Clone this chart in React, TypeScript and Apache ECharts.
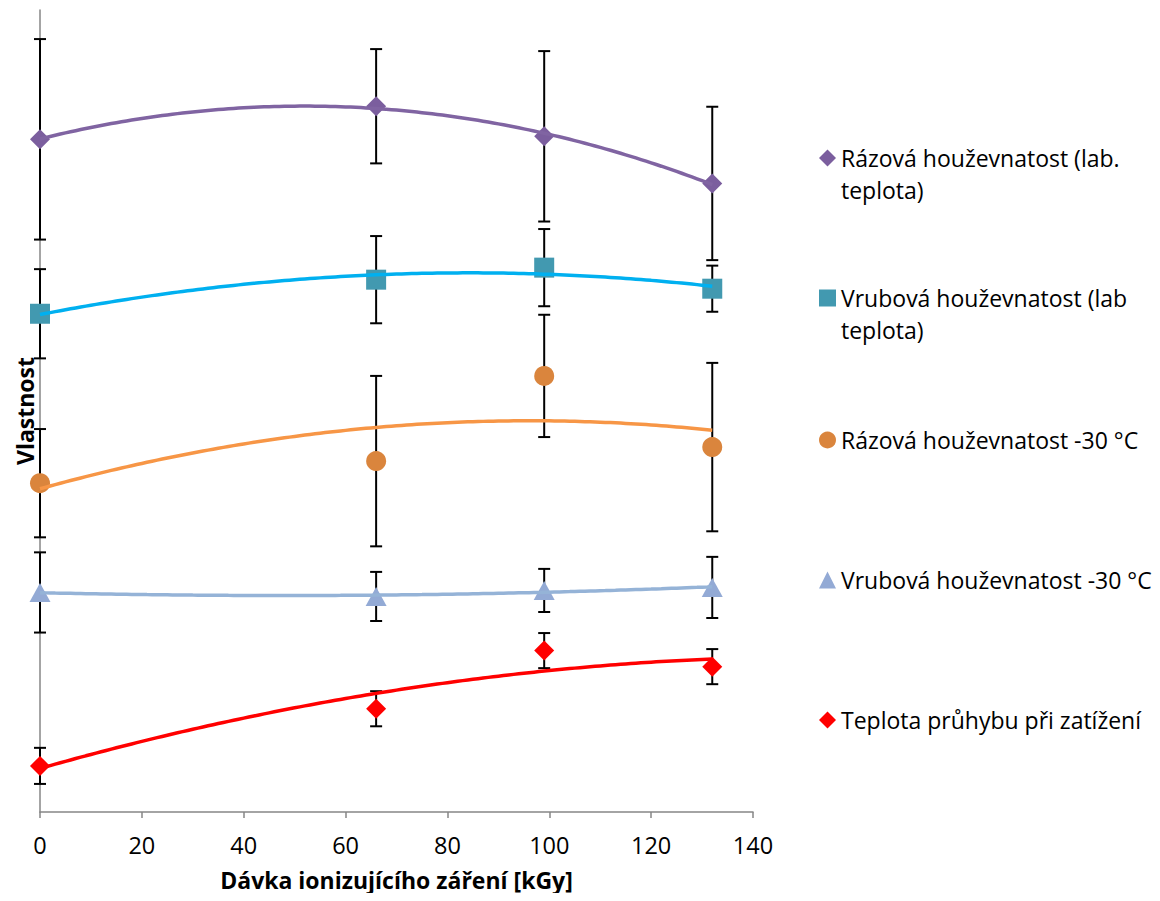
import React, { useEffect, useRef } from "react";
import * as echarts from "echarts";

// X values: dose of ionizing radiation [kGy]
const doses = [0, 66, 99, 132];

// Series names (legend labels)
const seriesNames = [
  "Rázová houževnatost (lab. teplota)",
  "Vrubová houževnatost (lab teplota)",
  "Rázová houževnatost -30 °C",
  "Vrubová houževnatost -30 °C",
  "Teplota průhybu při zatížení",
];
const legendLabels = [
  "Rázová houževnatost (lab.\nteplota)",
  "Vrubová houževnatost (lab\nteplota)",
  "Rázová houževnatost -30 °C",
  "Vrubová houževnatost -30 °C",
  "Teplota průhybu při zatížení",
];

// Mean values (relative units, unlabelled y axis)
const razLabMean = [67.1, 70.4, 67.4, 62.7];
const vrubLabMean = [49.7, 53.1, 54.3, 52.2];
const raz30Mean = [32.8, 35.0, 43.5, 36.4];
const vrub30Mean = [21.9, 21.5, 22.1, 22.4];
const teplotaMean = [4.6, 10.3, 16.1, 14.5];

// Error bar half-lengths (±)
const razLabErr = [10.0, 5.7, 8.5, 7.65];
const vrubLabErr = [4.45, 4.35, 3.85, 2.3];
const raz30Err = [5.4, 8.5, 6.1, 8.4];
const vrub30Err = [4.0, 2.45, 2.15, 3.05];
const teplotaErr = [1.8, 1.75, 1.75, 1.75];

const xTickMin = 0;
const xTickMax = 140;
const xTickStep = 20;

const markerColors = ["#7B5E9E", "#4299B0", "#DA853D", "#93AAD5", "#FF0000"];
const lineColors = ["#8064A2", "#00B0F0", "#F79646", "#95B3D7", "#FF0000"];
const symbols = ["diamond", "rect", "circle", "triangle", "diamond"];

const FONT = "'Open Sans', 'Noto Sans', sans-serif";

// Least-squares polynomial (order 2) trendline, as in the original chart
function quadFit(xs: number[], ys: number[]) {
  let s0 = 0, s1 = 0, s2 = 0, s3 = 0, s4 = 0, t0 = 0, t1 = 0, t2 = 0;
  for (let i = 0; i < xs.length; i++) {
    const x = xs[i], y = ys[i];
    s0 += 1; s1 += x; s2 += x * x; s3 += x * x * x; s4 += x * x * x * x;
    t0 += y; t1 += x * y; t2 += x * x * y;
  }
  const M = [
    [s0, s1, s2, t0],
    [s1, s2, s3, t1],
    [s2, s3, s4, t2],
  ];
  for (let c = 0; c < 3; c++) {
    let p = c;
    for (let r = c + 1; r < 3; r++) if (Math.abs(M[r][c]) > Math.abs(M[p][c])) p = r;
    [M[c], M[p]] = [M[p], M[c]];
    for (let r = 0; r < 3; r++) {
      if (r === c) continue;
      const f = M[r][c] / M[c][c];
      for (let k = c; k < 4; k++) M[r][k] -= f * M[c][k];
    }
  }
  const a = M[0][3] / M[0][0], b = M[1][3] / M[1][1], cc = M[2][3] / M[2][2];
  return (x: number) => a + b * x + cc * x * x;
}

const means = [razLabMean, vrubLabMean, raz30Mean, vrub30Mean, teplotaMean];
const errs = [razLabErr, vrubLabErr, raz30Err, vrub30Err, teplotaErr];

export default function App() {
  const ref = useRef<HTMLDivElement>(null);

  useEffect(() => {
    if (!ref.current) return;
    const chart = echarts.init(ref.current, undefined, { renderer: "svg" });

    const series: any[] = [];
    means.forEach((m, i) => {
      const name = seriesNames[i];
      // error bars
      series.push({
        name,
        type: "custom",
        z: 1,
        clip: false,
        encode: { x: 0, y: [1, 2] },
        data: doses.map((d, j) => [d, m[j] - errs[i][j], m[j] + errs[i][j]]),
        renderItem: (params: any, api: any) => {
          const x = api.value(0);
          const pLo = api.coord([x, api.value(1)]);
          const pHi = api.coord([x, api.value(2)]);
          const hw = 6;
          const style = { stroke: "#000", lineWidth: 2 };
          return {
            type: "group",
            children: [
              { type: "line", shape: { x1: pHi[0], y1: pHi[1], x2: pLo[0], y2: pLo[1] }, style },
              { type: "line", shape: { x1: pHi[0] - hw, y1: pHi[1], x2: pHi[0] + hw, y2: pHi[1] }, style },
              { type: "line", shape: { x1: pLo[0] - hw, y1: pLo[1], x2: pLo[0] + hw, y2: pLo[1] }, style },
            ],
          };
        },
      });
      // markers
      series.push({
        name,
        type: "scatter",
        z: 2,
        symbol: symbols[i],
        symbolSize: symbols[i] === "triangle" ? [21, 19] : 20,
        itemStyle: { color: markerColors[i], opacity: 1 },
        data: doses.map((d, j) => [d, m[j]]),
      });
      // polynomial trendline
      const f = quadFit(doses, m);
      const tx: number[] = [];
      for (let x = doses[0]; x <= doses[doses.length - 1]; x += 1) tx.push(x);
      series.push({
        name,
        type: "line",
        z: 3,
        showSymbol: false,
        symbol: "none",
        smooth: false,
        lineStyle: { color: lineColors[i], width: 3.5 },
        itemStyle: { color: lineColors[i] },
        data: tx.map((x) => [x, f(x)]),
      });
    });

    const L = 32;
    const iconY = [158, 298, 440, 580, 720];
    const legends = seriesNames.map((name, i) => {
      const twoLine = legendLabels[i].includes("\n");
      return {
        orient: "vertical",
        left: 819,
        top: twoLine ? iconY[i] - 1.5 * L : iconY[i] - L / 2,
        padding: 0,
        itemWidth: 17,
        itemHeight: 17,
        itemGap: 0,
        // a leading blank line keeps the icon level with the first text line
        formatter: (n: string) => {
          const lbl = legendLabels[seriesNames.indexOf(n)];
          return lbl.includes("\n") ? "\n" + lbl : lbl;
        },
        textStyle: { fontSize: 23, lineHeight: L, color: "#000", fontFamily: FONT },
        data: [
          {
            name,
            icon: symbols[i],
            itemStyle: { color: markerColors[i] },
          },
        ],
      };
    });

    chart.setOption({
      animation: false,
      backgroundColor: "#fff",
      grid: { left: 40, right: 407, top: 10, bottom: 89, containLabel: false },
      legend: legends,
      xAxis: {
        type: "value",
        min: xTickMin,
        max: xTickMax,
        interval: xTickStep,
        name: "Dávka ionizujícího záření [kGy]",
        nameLocation: "middle",
        nameGap: 56,
        nameTextStyle: { fontSize: 23, fontWeight: "bold", color: "#000", fontFamily: FONT },
        axisLine: { lineStyle: { color: "#868686", width: 1.5 } },
        axisTick: { show: true, length: 6, lineStyle: { color: "#868686", width: 1.5 } },
        axisLabel: { fontSize: 23.5, color: "#000", margin: 21, fontFamily: FONT },
        splitLine: { show: false },
      },
      yAxis: {
        type: "value",
        min: 0,
        max: 80,
        name: "Vlastnost",
        nameLocation: "middle",
        nameGap: 4,
        nameRotate: 90,
        nameTextStyle: { fontSize: 23, fontWeight: "bold", color: "#000", fontFamily: FONT },
        axisLine: { show: true, lineStyle: { color: "#868686", width: 1.5 } },
        axisTick: { show: false },
        axisLabel: { show: false },
        splitLine: { show: false },
      },
      series,
    });

    return () => chart.dispose();
  }, []);

  return <div ref={ref} style={{ width: 1160, height: 901, margin: -8 }} />;
}
